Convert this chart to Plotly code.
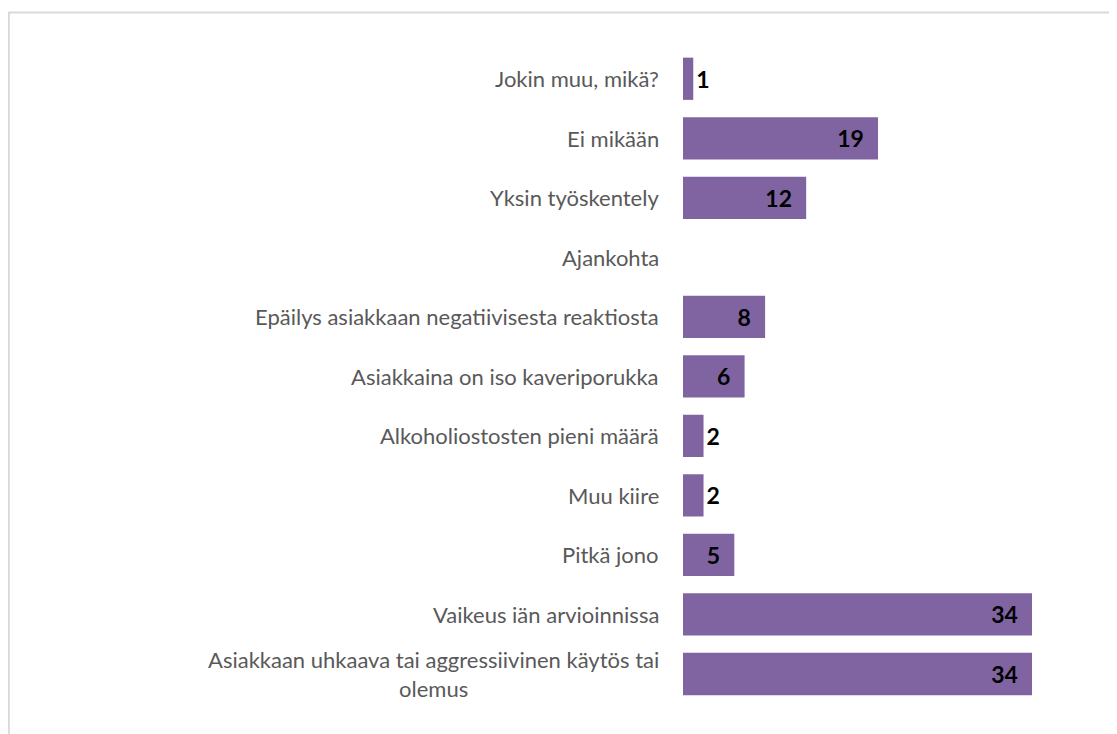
import plotly.graph_objects as go

# categories from bottom to top (plotly puts the first category at the bottom)
syyt = [
    "Asiakkaan uhkaava tai aggressiivinen käytös tai<br>olemus",
    "Vaikeus iän arvioinnissa",
    "Pitkä jono",
    "Muu kiire",
    "Alkoholiostosten pieni määrä",
    "Asiakkaina on iso kaveriporukka",
    "Epäilys asiakkaan negatiivisesta reaktiosta",
    "Ajankohta",
    "Yksin työskentely",
    "Ei mikään",
    "Jokin muu, mikä?",
]
maarat = [34, 34, 5, 2, 2, 6, 8, None, 12, 19, 1]

FONT = "Lato"
PURPLE = "#8064A2"

# small values get the label just outside the bar, like in the original
tekstit = []
paikat = []
for v in maarat:
    if v is None:
        tekstit.append("")
        paikat.append("none")
    elif v <= 2:
        tekstit.append(str(v))
        paikat.append("outside")
    else:
        tekstit.append(str(v) + "\u00a0\u00a0")
        paikat.append("inside")

fig = go.Figure(go.Bar(
    y=syyt, x=maarat, orientation="h",
    marker=dict(color=PURPLE, line=dict(width=0)),
    text=tekstit, textposition=paikat,
    insidetextanchor="end",
    textfont=dict(family=FONT, size=23, color="black", weight=700),
    cliponaxis=False,
))

# category labels as annotations so the wrapped one can be centred
for s in syyt:
    fig.add_annotation(
        x=0, xref="x", y=s, yref="y", xshift=-22,
        xanchor="right", yanchor="middle", align="center",
        text=s, showarrow=False,
        font=dict(family=FONT, size=22, color="#595959"),
    )

# light chart border (open at right/bottom like the cropped original)
fig.add_shape(type="rect", xref="paper", yref="paper",
              x0=0.8 / 1117, x1=1.02, y0=-0.02, y1=1 - 4.5 / 734,
              line=dict(color="#D9D9D9", width=2), fillcolor="rgba(0,0,0,0)",
              layer="below")

fig.update_layout(
    width=1117, height=734,
    margin=dict(l=0, r=0, t=0, b=0, pad=0),
    plot_bgcolor="white", paper_bgcolor="white",
    showlegend=False, bargap=0.29,
    xaxis=dict(domain=[675 / 1117, 1024 / 1117], range=[0, 34],
               visible=False, fixedrange=True),
    yaxis=dict(domain=[38 / 734, 693 / 734], showticklabels=False,
               showgrid=False, zeroline=False, showline=False, ticks=""),
    uniformtext=dict(mode=False),
)

fig.write_html("out.html")
